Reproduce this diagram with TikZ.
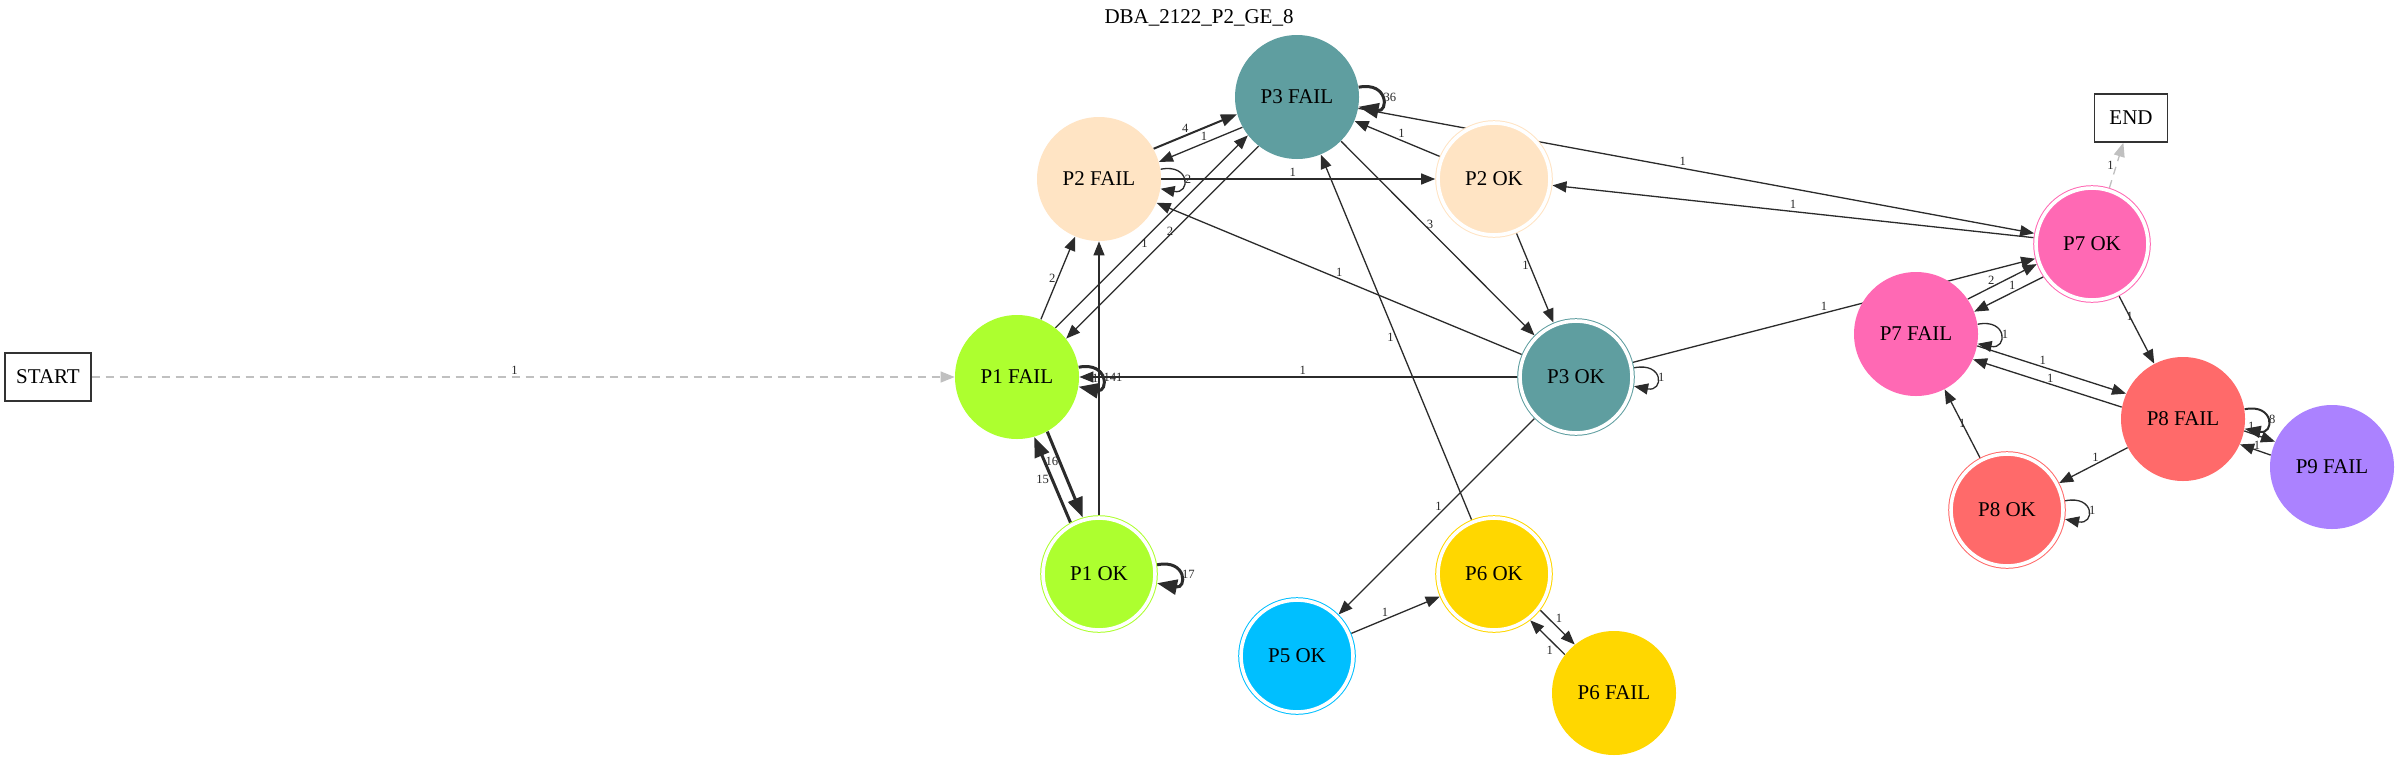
\documentclass[tikz,border=0pt]{standalone}
\usepackage{fontspec}
\setmainfont{Liberation Serif}
\usetikzlibrary{arrows.meta,backgrounds}
\definecolor{pone}{HTML}{ADFF2F}
\definecolor{ptwo}{HTML}{FFE4C4}
\definecolor{pthree}{HTML}{5F9EA0}
\definecolor{pfive}{HTML}{00BFFF}
\definecolor{psix}{HTML}{FFD700}
\definecolor{pseven}{HTML}{FF69B4}
\definecolor{peight}{HTML}{FF6A6A}
\definecolor{pnine}{HTML}{AB82FF}
\definecolor{edgegray}{HTML}{2B2B2B}
\definecolor{ghostgray}{HTML}{C0C0C0}
\def\selfloop[#1](#2)#3{\draw[#1] (#2.9) .. controls +(15pt,3pt) and +(15pt,-3pt) .. (#2.-9) node[lbl,right,pos=.5,inner sep=.5pt] {#3};}

\begin{document}
\begin{tikzpicture}[x=0.5pt,y=-0.5pt,
		failnode/.style={circle,fill=#1,minimum size=62pt,inner sep=0pt,font=\fontsize{10.5}{12}\selectfont},
		oknode/.style={circle,fill=#1,draw=#1,double=white,double distance=1.8pt,line width=.5pt,minimum size=56pt,inner sep=0pt,outer sep=1.4pt,font=\fontsize{10.5}{12}\selectfont},
		termbox/.style={rectangle,draw=black!80,line width=.7pt,minimum height=24pt,inner sep=0pt,font=\fontsize{10.5}{12}\selectfont},
		trans/.style={draw=edgegray,line width=.65pt,-{Triangle[length=7pt,width=5.5pt]}},
		midw/.style={line width=1pt,-{Triangle[length=8pt,width=6pt]}},
		heavy/.style={line width=1.5pt,-{Triangle[length=10pt,width=7.5pt]}},
		ghost/.style={draw=ghostgray,line width=.65pt,dash pattern=on 4pt off 3pt,-{Triangle[length=7pt,width=5.5pt]}},
		lbl/.style={font=\fontsize{6.3}{7}\selectfont,text=edgegray,inner sep=1pt}]
			%%%%% START %%%%%
			
			\useasboundingbox (0,0) rectangle (2400,761);
			
			\node[font=\fontsize{10.5}{12}\selectfont] (title) at (1199,18) {DBA\_2122\_P2\_GE\_8};
			
			\node[termbox,minimum width=43pt] (start) at (48,377) {START};
			\node[termbox,minimum width=36.5pt] (endbox) at (2131,118) {END};
			
			\node[failnode=pone] (p1f) at (1017,377) {P1 FAIL};
			\node[oknode=pone] (p1ok) at (1099,574) {P1 OK};
			\node[failnode=ptwo] (p2f) at (1099,179) {P2 FAIL};
			\node[oknode=ptwo] (p2ok) at (1494,179) {P2 OK};
			\node[failnode=pthree] (p3f) at (1297,97) {P3 FAIL};
			\node[oknode=pthree] (p3ok) at (1576,377) {P3 OK};
			\node[oknode=pfive] (p5ok) at (1297,656) {P5 OK};
			\node[oknode=psix] (p6ok) at (1494,574) {P6 OK};
			\node[failnode=psix] (p6f) at (1614,693) {P6 FAIL};
			\node[oknode=pseven] (p7ok) at (2092,244) {P7 OK};
			\node[failnode=pseven] (p7f) at (1916,334) {P7 FAIL};
			\node[failnode=peight] (p8f) at (2183,419) {P8 FAIL};
			\node[oknode=peight] (p8ok) at (2007,510) {P8 OK};
			\node[failnode=pnine] (p9f) at (2332,467) {P9 FAIL};
			
			\begin{scope}[on background layer]
			\fill[white] (0,0) rectangle (2400,761);
			
			\draw[ghost] (start) -- node[lbl,above,pos=.49]{1} (p1f);
			
			% P1
			\draw[trans] (p1f) -- node[lbl,left,pos=.5]{2} (p2f);
			\draw[trans] (p1ok) -- node[lbl,left,pos=.5,inner sep=0pt]{1} (p2f);
			\draw[trans] (p1f.52) -- node[lbl,right,pos=.44,inner sep=.3pt]{1} (p3f.218);
			\draw[trans] (p3f.232) -- node[lbl,left,pos=.44,inner sep=0pt]{2} (p1f.38);
			\selfloop[trans,heavy](p1f){141}
			\draw[trans,heavy] (p1f.-61) -- node[lbl,left,pos=.35,inner sep=0pt]{16} (p1ok.106);
			\draw[trans,heavy] (p1ok.119) -- node[lbl,left,pos=.5]{15} (p1f.-74);
			\selfloop[trans,heavy](p1ok){17}
			
			% P2 / P3
			\draw[trans,midw] (p2f.29) -- node[lbl,above,pos=.38]{4} (p3f.196);
			\draw[trans] (p3f.209) -- node[lbl,above,pos=.46]{1} (p2f.16);
			\selfloop[trans](p2f){2}
			\draw[trans] (p2f) -- node[lbl,above,pos=.48]{1} (p2ok);
			\draw[trans] (p2ok) -- node[lbl,above,pos=.45]{1} (p3f);
			\draw[trans] (p3f) -- node[lbl,right,pos=.43]{3} (p3ok);
			\draw[trans] (p2ok) -- node[lbl,left,pos=.36,inner sep=.3pt]{1} (p3ok);
			\selfloop[trans,heavy](p3f){36}
			\draw[trans] (p3ok) -- node[lbl,above,pos=.5]{1} (p2f);
			\draw[trans] (p3ok) -- node[lbl,above,pos=.49]{1} (p1f);
			\selfloop[trans](p3ok){1}
			\draw[trans] (p3ok) -- node[lbl,above,pos=.475]{1} (p7ok);
			\draw[trans] (p3f) -- node[lbl,above,pos=.48]{1} (p7ok);
			\draw[trans] (p7ok) -- node[lbl,above,pos=.5]{1} (p2ok);
			
			% P5 / P6
			\draw[trans] (p3ok) -- node[lbl,left,pos=.45,inner sep=2pt]{1} (p5ok);
			\draw[trans] (p5ok) -- node[lbl,above,pos=.38]{1} (p6ok);
			\draw[trans] (p6ok.-38) -- node[lbl,above right,pos=.4,inner sep=.5pt]{1} (p6f.129);
			\draw[trans] (p6f.142) -- node[lbl,below left,pos=.3,inner sep=.5pt]{1} (p6ok.-52);
			\draw[trans] (p6ok) -- node[lbl,left,pos=.5]{1} (p3f);
			
			% P7 / P8 / P9
			\draw[trans] (p7f.34) -- node[lbl,above,pos=.34]{2} (p7ok.200);
			\draw[trans] (p7ok.214) -- node[lbl,above,pos=.45]{1} (p7f.21);
			\selfloop[trans](p7f){1}
			\draw[trans] (p7ok) -- node[lbl,pos=.3]{1} (p8f);
			\draw[ghost] (p7ok) -- node[lbl,left,pos=.5]{1} (endbox);
			\draw[trans] (p7f.-11) -- node[lbl,above,pos=.44]{1} (p8f.156);
			\draw[trans] (p8f.169) -- node[lbl,above,pos=.48,inner sep=.5pt]{1} (p7f.-24);
			\selfloop[trans,midw](p8f){8}
			\draw[trans] (p8f.-11) -- node[lbl,above,pos=.23]{1} (p9f.156);
			\draw[trans] (p9f.169) -- node[lbl,above,pos=.45,inner sep=0pt]{1} (p8f.-24);
			\draw[trans] (p8f) -- node[lbl,above,pos=.47]{1} (p8ok);
			\draw[trans] (p8ok) -- node[lbl,pos=.5]{1} (p7f);
			\selfloop[trans](p8ok){1}
			\end{scope}
			
			%%%%% END %%%%%
		\end{tikzpicture}
\end{document}
